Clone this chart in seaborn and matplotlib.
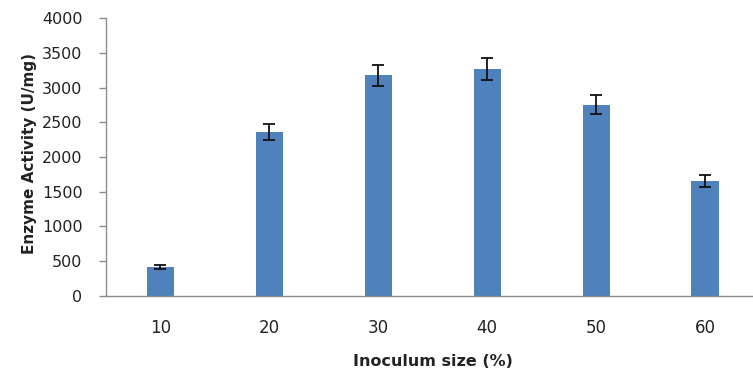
import matplotlib
matplotlib.use("Agg")
import matplotlib.pyplot as plt
import seaborn as sns
import pandas as pd
import numpy as np

# Data
inoculum_size = ["10", "20", "30", "40", "50", "60"]
enzyme_activity = [411, 2360, 3178, 3272, 2757, 1650]
activity_error = [30, 120, 155, 155, 130, 86]

df = pd.DataFrame({"size": inoculum_size, "activity": enzyme_activity})

sns.set_theme(style="white")
plt.rcParams["font.family"] = ["DejaVu Sans"]

W, H = 753, 370
fig = plt.figure(figsize=(W / 100, H / 100), dpi=100)
fig.patch.set_facecolor("white")

left, right = 106, 759.5
bottom, top = 295.7, 18.3
ax = fig.add_axes([left / W, (H - bottom) / H, (right - left) / W, (bottom - top) / H])

sns.barplot(data=df, x="size", y="activity", color="#4F81BD", saturation=1,
            width=0.25, errorbar=None, ax=ax, edgecolor="none")

ax.errorbar(np.arange(len(inoculum_size)), enzyme_activity, yerr=activity_error,
            fmt="none", ecolor="#111111", elinewidth=1.3, capsize=4.2, capthick=1.3)

ax.set_xlim(-0.5, 5.5)
ax.set_ylim(0, 4000)
ax.set_yticks(range(0, 4001, 500))

for s in ["top", "right"]:
    ax.spines[s].set_visible(False)
for s in ["left", "bottom"]:
    ax.spines[s].set_color("#8c8c8c")
    ax.spines[s].set_linewidth(1.0)

ax.tick_params(axis="y", which="both", left=True, length=5, width=1.0,
               color="#8c8c8c", labelsize=11.5, labelcolor="#222222", pad=12)
ax.tick_params(axis="x", which="both", bottom=False, labelsize=12,
               labelcolor="#222222", pad=11)

ax.set_xlabel("Inoculum size (%)", fontsize=11.5, fontweight="bold",
              color="#222222", labelpad=12)
ax.set_ylabel("Enzyme Activity (U/mg)", fontsize=11, fontweight="bold",
              color="#222222")
ax.yaxis.set_label_coords((37 - left) / (right - left), (bottom - 153) / (bottom - top))

fig.savefig("out.png", dpi=100, facecolor="white")
